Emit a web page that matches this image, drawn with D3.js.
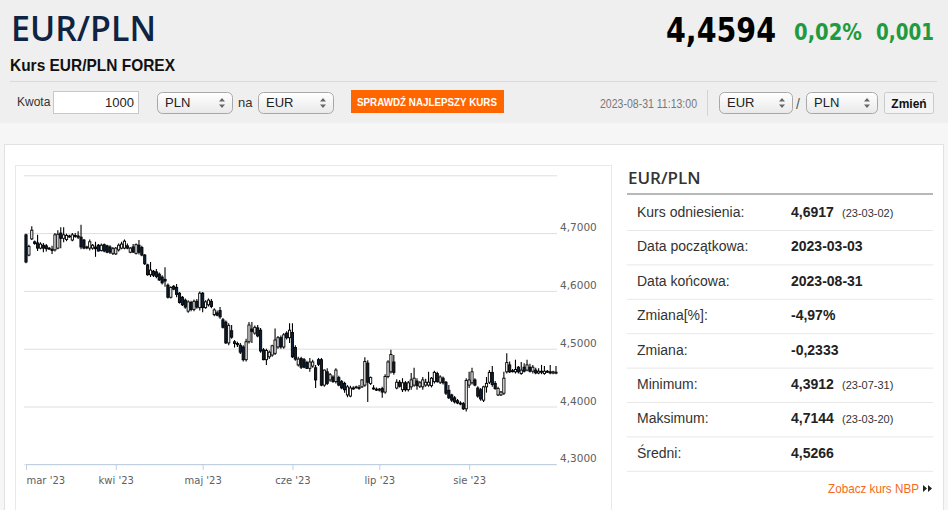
<!DOCTYPE html>
<html lang="pl">
<head>
<meta charset="utf-8">
<title>Kurs EUR/PLN FOREX</title>
<script src="https://cdn.jsdelivr.net/npm/d3@7"></script>
<style>
  body { margin:0; background:#f6f6f6; font-family:"Liberation Sans", Arial, sans-serif; }
  svg { display:block; }
</style>
</head>
<body>
<script>

// daily candles [open, high, low, close], one row per calendar day
var mar = [
  [4.697,4.699,4.648,4.650],[4.662,4.680,4.660,4.677],[4.690,4.712,4.688,4.705],[4.685,4.687,4.680,4.682],
  [4.683,4.697,4.669,4.674],[4.674,4.684,4.672,4.681],[4.679,4.683,4.667,4.674],[4.678,4.681,4.668,4.673],
  [4.674,4.676,4.671,4.673],[4.672,4.678,4.664,4.670],[4.671,4.700,4.668,4.697],[4.674,4.705,4.672,4.698],
  [4.700,4.710,4.674,4.691],[4.691,4.710,4.684,4.697],[4.689,4.699,4.686,4.696],[4.695,4.697,4.692,4.694],
  [4.688,4.700,4.686,4.697],[4.696,4.700,4.692,4.695],[4.695,4.703,4.690,4.693],[4.693,4.7144,4.672,4.676],
  [4.688,4.690,4.672,4.674],[4.676,4.678,4.672,4.675],[4.674,4.689,4.670,4.685],[4.674,4.681,4.671,4.679],
  [4.676,4.685,4.659,4.673],[4.679,4.681,4.668,4.669],[4.670,4.682,4.668,4.679],[4.680,4.682,4.667,4.669],
  [4.678,4.680,4.665,4.667],[4.676,4.679,4.664,4.667],[4.665,4.676,4.662,4.673]
];
var kwi = [
  [4.664,4.676,4.662,4.674],[4.671,4.682,4.668,4.679],[4.674,4.685,4.672,4.681],[4.674,4.689,4.672,4.686],
  [4.678,4.682,4.672,4.674],[4.667,4.676,4.665,4.674],[4.676,4.681,4.666,4.667],[4.665,4.682,4.663,4.680],
  [4.679,4.688,4.663,4.667],[4.675,4.678,4.660,4.662],[4.662,4.664,4.645,4.647],[4.645,4.647,4.626,4.628],
  [4.628,4.650,4.624,4.636],[4.634,4.636,4.624,4.627],[4.633,4.638,4.622,4.625],[4.629,4.632,4.617,4.619],
  [4.624,4.627,4.611,4.614],[4.620,4.641,4.607,4.617],[4.610,4.613,4.587,4.589],[4.589,4.608,4.587,4.606],
  [4.608,4.610,4.601,4.603],[4.606,4.612,4.589,4.594],[4.596,4.598,4.578,4.580],[4.589,4.591,4.574,4.576],
  [4.584,4.587,4.569,4.572],[4.565,4.584,4.562,4.581],[4.580,4.583,4.565,4.568],[4.568,4.585,4.565,4.582],
  [4.582,4.586,4.569,4.572],[4.571,4.599,4.566,4.596]
];
var maj = [
  [4.596,4.598,4.563,4.571],[4.571,4.584,4.569,4.581],[4.576,4.587,4.573,4.584],[4.582,4.586,4.570,4.573],
  [4.559,4.570,4.556,4.567],[4.562,4.566,4.556,4.558],[4.566,4.572,4.552,4.555],[4.550,4.553,4.535,4.537],
  [4.546,4.549,4.508,4.510],[4.510,4.544,4.506,4.540],[4.531,4.541,4.517,4.520],[4.512,4.515,4.502,4.509],
  [4.509,4.512,4.503,4.507],[4.506,4.510,4.491,4.494],[4.503,4.506,4.478,4.481],[4.481,4.517,4.478,4.512],
  [4.512,4.546,4.509,4.541],[4.534,4.546,4.510,4.530],[4.527,4.540,4.524,4.537],[4.536,4.541,4.520,4.522],
  [4.532,4.536,4.493,4.496],[4.498,4.501,4.480,4.481],[4.481,4.500,4.472,4.497],[4.486,4.497,4.482,4.494],
  [4.489,4.507,4.486,4.505],[4.492,4.535,4.489,4.515],[4.503,4.522,4.500,4.519],[4.519,4.523,4.500,4.503],
  [4.503,4.527,4.500,4.524],[4.527,4.530,4.516,4.519],[4.519,4.544,4.510,4.532]
];
var cze = [
  [4.528,4.544,4.484,4.486],[4.502,4.506,4.479,4.482],[4.472,4.486,4.469,4.482],[4.483,4.486,4.465,4.468],
  [4.481,4.484,4.466,4.468],[4.476,4.479,4.465,4.466],[4.466,4.484,4.460,4.477],[4.470,4.481,4.467,4.477],
  [4.467,4.472,4.432,4.446],[4.481,4.484,4.470,4.473],[4.481,4.484,4.435,4.437],[4.437,4.464,4.434,4.463],
  [4.460,4.466,4.437,4.440],[4.446,4.458,4.443,4.455],[4.451,4.454,4.441,4.443],[4.443,4.466,4.440,4.463],
  [4.450,4.453,4.435,4.437],[4.443,4.446,4.430,4.432],[4.440,4.443,4.424,4.429],[4.420,4.437,4.416,4.434],
  [4.418,4.436,4.416,4.432],[4.432,4.435,4.429,4.431],[4.433,4.436,4.431,4.434],[4.432,4.437,4.429,4.433],
  [4.434,4.447,4.432,4.446],[4.437,4.485,4.434,4.478],[4.475,4.480,4.408,4.442],[4.440,4.452,4.437,4.450],
  [4.432,4.437,4.429,4.431],[4.430,4.433,4.427,4.429]
];
var lip = [
  [4.429,4.432,4.426,4.430],[4.431,4.434,4.415,4.425],[4.425,4.456,4.422,4.452],[4.452,4.480,4.449,4.477],
  [4.460,4.498,4.457,4.490],[4.477,4.489,4.455,4.459],[4.432,4.447,4.430,4.442],[4.442,4.446,4.433,4.435],
  [4.429,4.449,4.425,4.441],[4.441,4.444,4.426,4.429],[4.429,4.444,4.426,4.441],[4.434,4.458,4.429,4.446],
  [4.437,4.467,4.434,4.449],[4.444,4.449,4.429,4.436],[4.435,4.444,4.432,4.441],[4.434,4.451,4.429,4.446],
  [4.437,4.448,4.434,4.442],[4.437,4.460,4.434,4.442],[4.436,4.451,4.433,4.449],[4.443,4.462,4.440,4.459],
  [4.457,4.460,4.441,4.443],[4.442,4.454,4.439,4.451],[4.449,4.452,4.438,4.441],[4.442,4.444,4.420,4.423],
  [4.428,4.437,4.413,4.415],[4.420,4.422,4.408,4.411],[4.415,4.418,4.405,4.408],[4.410,4.413,4.404,4.406],
  [4.406,4.409,4.402,4.405],[4.405,4.408,4.394,4.396],[4.396,4.449,4.3912,4.445]
];
var sie = [
  [4.437,4.460,4.432,4.446],[4.441,4.467,4.438,4.460],[4.446,4.449,4.435,4.437],[4.432,4.435,4.415,4.418],
  [4.429,4.432,4.410,4.413],[4.411,4.436,4.408,4.434],[4.434,4.451,4.424,4.440],[4.442,4.463,4.439,4.459],
  [4.459,4.470,4.434,4.438],[4.440,4.444,4.429,4.431],[4.420,4.434,4.418,4.431],[4.420,4.427,4.418,4.425],
  [4.423,4.460,4.420,4.449],[4.460,4.492,4.457,4.476],[4.472,4.478,4.458,4.460],[4.462,4.465,4.459,4.461],
  [4.460,4.481,4.457,4.464],[4.468,4.470,4.457,4.460],[4.457,4.477,4.455,4.463],[4.468,4.475,4.459,4.461],
  [4.463,4.481,4.461,4.472],[4.468,4.474,4.459,4.461],[4.461,4.472,4.457,4.468],[4.463,4.467,4.456,4.458],
  [4.458,4.466,4.456,4.461],[4.461,4.472,4.456,4.460],[4.457,4.470,4.455,4.461],[4.461,4.463,4.458,4.460],
  [4.460,4.472,4.456,4.458],[4.458,4.462,4.456,4.460],[4.459,4.470,4.456,4.4594]
];

var monthLabels = ["mar '23", "kwi '23", "maj '23", "cze '23", "lip '23", "sie '23"];
var priceTicks = [4.3, 4.4, 4.5, 4.6, 4.7, 4.8];

var statLabels = ["Kurs odniesienia:", "Data początkowa:", "Data końcowa:", "Zmiana[%]:", "Zmiana:", "Minimum:", "Maksimum:", "Średni:"];
var statValues = ["4,6917", "2023-03-03", "2023-08-31", "-4,97%", "-0,2333", "4,3912", "4,7144", "4,5266"];
var statDates = ["(23-03-02)", "", "", "", "", "(23-07-31)", "(23-03-20)", ""];

var w = 948, h = 510;

var svg = d3.select("body").append("svg")
            .attr("width", w)
            .attr("height", h);

var defs = svg.append("defs");
var grad = defs.append("linearGradient").attr("id", "sel").attr("x1", 0).attr("y1", 0).attr("x2", 0).attr("y2", 1);
grad.append("stop").attr("offset", "0%").attr("stop-color", "#ffffff");
grad.append("stop").attr("offset", "100%").attr("stop-color", "#e9e9e9");

//---- header
svg.append("rect").attr("width", w).attr("height", 123).attr("fill", "#efefef");

svg.append("text").text("EUR/PLN")
   .attr("x", 11).attr("y", 41)
   .attr("font-family", "'Open Sans', sans-serif").attr("font-weight", 600).attr("font-size", 34)
   .attr("textLength", 145).attr("lengthAdjust", "spacingAndGlyphs")
   .attr("fill", "#0f2443");

svg.append("text").text("Kurs EUR/PLN FOREX")
   .attr("x", 10).attr("y", 71)
   .attr("font-weight", "bold").attr("font-size", 16.5)
   .attr("textLength", 165).attr("lengthAdjust", "spacingAndGlyphs")
   .attr("fill", "#111");

svg.append("text").text("4,4594")
   .attr("x", 666).attr("y", 42)
   .attr("font-family", "'DejaVu Sans', sans-serif").attr("font-weight", "bold").attr("font-size", 33)
   .attr("textLength", 110).attr("lengthAdjust", "spacingAndGlyphs")
   .attr("fill", "#000");

svg.append("text").text("0,02%")
   .attr("x", 794).attr("y", 40)
   .attr("font-family", "'DejaVu Sans', sans-serif").attr("font-weight", "bold").attr("font-size", 23)
   .attr("textLength", 68).attr("lengthAdjust", "spacingAndGlyphs")
   .attr("fill", "#1f9b3f");

svg.append("text").text("0,001")
   .attr("x", 876).attr("y", 40)
   .attr("font-family", "'DejaVu Sans', sans-serif").attr("font-weight", "bold").attr("font-size", 23)
   .attr("textLength", 58).attr("lengthAdjust", "spacingAndGlyphs")
   .attr("fill", "#1f9b3f");

svg.append("line").attr("x1", 10).attr("x2", 937).attr("y1", 81.5).attr("y2", 81.5)
   .attr("stroke", "#d9d9d9");

// form row
svg.append("text").text("Kwota").attr("x", 17).attr("y", 106)
   .attr("font-size", 12).attr("fill", "#333");
svg.append("rect").attr("x", 53.5).attr("y", 91.5).attr("width", 85).attr("height", 22)
   .attr("fill", "#fff").attr("stroke", "#c8c8c8");
svg.append("text").text("1000").attr("x", 134).attr("y", 107)
   .attr("text-anchor", "end").attr("font-size", 13).attr("fill", "#222");

function selectBox(x, wd, label) {
  svg.append("rect").attr("x", x + 0.5).attr("y", 92.5).attr("width", wd).attr("height", 21).attr("rx", 5)
     .attr("fill", "url(#sel)").attr("stroke", "#a8a8a8");
  svg.append("text").text(label).attr("x", x + 8).attr("y", 107)
     .attr("font-size", 13).attr("fill", "#222");
  var ax = x + wd - 10;
  svg.append("path")
     .attr("d", "M" + (ax - 3) + ",101.5L" + ax + ",98L" + (ax + 3) + ",101.5Z M" + (ax - 3) + ",104.5L" + ax + ",108L" + (ax + 3) + ",104.5Z")
     .attr("fill", "#666");
}
selectBox(157, 75, "PLN");
svg.append("text").text("na").attr("x", 238).attr("y", 107).attr("font-size", 13).attr("fill", "#333");
selectBox(258, 75, "EUR");

svg.append("rect").attr("x", 351).attr("y", 90).attr("width", 153).attr("height", 23).attr("fill", "#ff6600");
svg.append("text").text("SPRAWDŹ NAJLEPSZY KURS").attr("x", 357).attr("y", 106)
   .attr("font-size", 11.5).attr("font-weight", "bold").attr("fill", "#fff")
   .attr("textLength", 140).attr("lengthAdjust", "spacingAndGlyphs");

svg.append("text").text("2023-08-31 11:13:00").attr("x", 600).attr("y", 108)
   .attr("font-size", 12).attr("fill", "#777")
   .attr("textLength", 97).attr("lengthAdjust", "spacingAndGlyphs");
svg.append("line").attr("x1", 707.5).attr("x2", 707.5).attr("y1", 90).attr("y2", 116).attr("stroke", "#d3d3d3");

selectBox(719, 73, "EUR");
svg.append("text").text("/").attr("x", 796).attr("y", 109).attr("font-size", 14).attr("fill", "#555");
selectBox(806, 71, "PLN");

svg.append("rect").attr("x", 884.5).attr("y", 92.5).attr("width", 49).attr("height", 21).attr("rx", 2)
   .attr("fill", "#f4f4f4").attr("stroke", "#cacaca");
svg.append("text").text("Zmień").attr("x", 909).attr("y", 108).attr("text-anchor", "middle")
   .attr("font-size", 12).attr("font-weight", "bold").attr("fill", "#111");

//---- card and chart panel
svg.append("rect").attr("x", 4.5).attr("y", 144.5).attr("width", 939).attr("height", 380)
   .attr("fill", "#fff").attr("stroke", "#e2e2e2");
svg.append("rect").attr("x", 15.5).attr("y", 165.5).attr("width", 596).attr("height", 360)
   .attr("fill", "#fff").attr("stroke", "#e8e8e8");

var candles = [];
[[2, mar], [3, kwi], [4, maj], [5, cze], [6, lip], [7, sie]].forEach(function(p) {
  p[1].forEach(function(r, i) {
    candles.push({date: new Date(Date.UTC(2023, p[0], i + 1)), o: r[0], h: r[1], l: r[2], c: r[3]});
  });
});

var x = d3.scaleUtc()
          .domain([new Date(Date.UTC(2023, 2, 1)), new Date(Date.UTC(2023, 7, 31))])
          .range([26, 556]);
var y = d3.scaleLinear().domain([4.3, 4.8]).range([464.3, 175.3]);

var fmt = d3.format(".4f");

// gridlines + price labels on the right
var yAxis = svg.append("g").attr("transform", "translate(557,0)")
   .call(d3.axisRight(y).tickValues(priceTicks).tickSize(-533).tickPadding(3)
          .tickFormat(function(d) { return d >= 4.8 ? "" : fmt(d).replace(".", ","); }));
yAxis.select(".domain").remove();
yAxis.selectAll(".tick line").attr("stroke", "#dedede");
yAxis.selectAll(".tick text")
     .attr("dy", -2.5)
     .attr("fill", "#606060")
     .attr("font-family", "'DejaVu Sans', sans-serif")
     .attr("font-size", 10.5);

// candles
var cg = svg.append("g");
cg.selectAll("line.wick")
  .data(candles)
  .enter()
  .append("line")
  .attr("class", "wick")
  .attr("x1", function(d) { return x(d.date); })
  .attr("x2", function(d) { return x(d.date); })
  .attr("y1", function(d) { return y(d.h); })
  .attr("y2", function(d) { return y(d.l); })
  .attr("stroke", "#000")
  .attr("stroke-width", 1.1);

cg.selectAll("rect.body")
  .data(candles)
  .enter()
  .append("rect")
  .attr("class", "body")
  .attr("x", function(d) { return x(d.date) - 1.1; })
  .attr("width", 2.2)
  .attr("y", function(d) { return y(Math.max(d.o, d.c)); })
  .attr("height", function(d) { return Math.max(1, Math.abs(y(d.o) - y(d.c))); })
  .attr("fill", function(d) { return d.c < d.o ? "#0e1f38" : "#fff"; })
  .attr("stroke", "#000")
  .attr("stroke-width", 0.9);

// month axis
var xAxis = svg.append("g").attr("transform", "translate(0,464)")
   .call(d3.axisBottom(x)
          .tickValues(d3.utcMonth.range(new Date(Date.UTC(2023, 2, 1)), new Date(Date.UTC(2023, 8, 1))))
          .tickFormat(function(d, i) { return monthLabels[i]; })
          .tickSize(6).tickSizeOuter(0).tickPadding(7));
xAxis.select(".domain").attr("stroke", "#c0d0e0");
xAxis.selectAll(".tick line").attr("stroke", "#c0d0e0");
xAxis.selectAll(".tick text")
     .attr("fill", "#606060")
     .attr("font-family", "'DejaVu Sans', sans-serif")
     .attr("font-size", 10);
xAxis.select(".tick text").attr("text-anchor", "start");

//---- statistics panel
svg.append("text").text("EUR/PLN").attr("x", 628).attr("y", 184)
   .attr("font-family", "'Open Sans', sans-serif").attr("font-weight", 600).attr("font-size", 17)
   .attr("fill", "#333");
svg.append("line").attr("x1", 627).attr("x2", 933).attr("y1", 194).attr("y2", 194)
   .attr("stroke", "#a0a0a0").attr("stroke-width", 1.5);

var rows = svg.append("g").selectAll("g")
   .data(statLabels)
   .enter()
   .append("g")
   .attr("transform", function(d, i) { return "translate(0," + (212 + 34.4 * i) + ")"; });

rows.append("line").attr("x1", 627).attr("x2", 933).attr("y1", 18.5).attr("y2", 18.5)
    .attr("stroke", "#e8e8e8");
rows.append("text").text(function(d) { return d; })
    .attr("x", 637).attr("y", 5).attr("font-size", 14).attr("fill", "#333");
rows.append("text").text(function(d, i) { return statValues[i]; })
    .attr("x", 791).attr("y", 5).attr("font-size", 14).attr("font-weight", "bold").attr("fill", "#222");
rows.append("text").text(function(d, i) { return statDates[i]; })
    .attr("x", 842).attr("y", 5).attr("font-size", 11).attr("fill", "#333");

svg.append("text").text("Zobacz kurs NBP").attr("x", 828).attr("y", 493)
   .attr("font-size", 13).attr("fill", "#f26a21")
   .attr("textLength", 91).attr("lengthAdjust", "spacingAndGlyphs");
svg.append("path")
   .attr("d", "M923,485L927,488.5L923,492Z M928,485L932,488.5L928,492Z")
   .attr("fill", "#222");

</script>
</body>
</html>
